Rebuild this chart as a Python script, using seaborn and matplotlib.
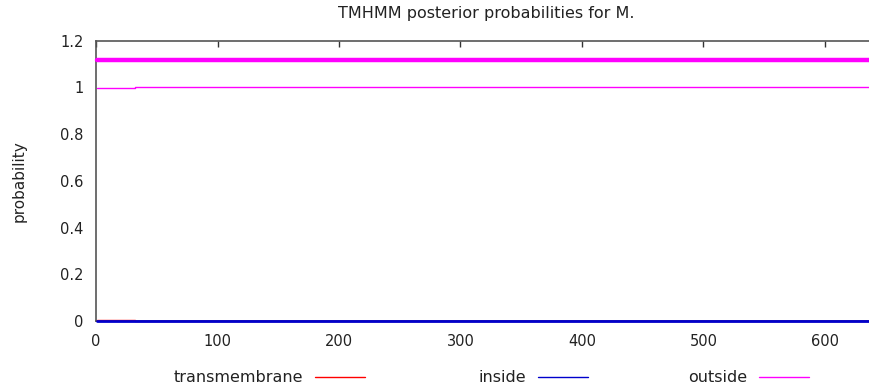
import matplotlib
matplotlib.use("Agg")
import matplotlib.pyplot as plt
from matplotlib.lines import Line2D
from matplotlib.ticker import FuncFormatter
import seaborn as sns
import pandas as pd

# ---- data ----
positions = [1, 31, 32, 637]
outside_prob = [0.996, 0.996, 1.0, 1.0]
inside_prob = [0.0, 0.0, 0.0, 0.0]
transmembrane_prob = [0.004, 0.004, 0.0, 0.0]
outside_region = [1, 640]
outside_region_level = [1.115, 1.115]

title = "TMHMM posterior probabilities for M."
ylabel = "probability"
xticks = [0, 100, 200, 300, 400, 500, 600]
yticks = [0, 0.2, 0.4, 0.6, 0.8, 1.0, 1.2]
legend_labels = ["transmembrane", "inside", "outside"]
colors = {"transmembrane": "#ff0000", "inside": "#0000cc", "outside": "#ff00ff"}

sns.set_style("white")
plt.rcParams["font.family"] = ["DejaVu Sans"]

df = pd.DataFrame({
    "pos": positions,
    "transmembrane": transmembrane_prob,
    "inside": inside_prob,
    "outside": outside_prob,
})
region = pd.DataFrame({"pos": outside_region, "level": outside_region_level})

fig = plt.figure(figsize=(8.69, 3.89), dpi=100)
ax = fig.add_axes([96 / 869, 1 - 321 / 389, 780 / 869, 280.5 / 389])
xmax = 780 / 1.215

sns.lineplot(data=region, x="pos", y="level", color=colors["outside"], lw=3.2,
             drawstyle="steps-post", ax=ax, legend=False)
sns.lineplot(data=df, x="pos", y="outside", color=colors["outside"], lw=1.0,
             drawstyle="steps-post", ax=ax, legend=False)
sns.lineplot(data=df, x="pos", y="transmembrane", color=colors["transmembrane"], lw=1.0,
             drawstyle="steps-post", ax=ax, legend=False)
sns.lineplot(data=df, x="pos", y="inside", color=colors["inside"], lw=2.0,
             drawstyle="steps-post", ax=ax, legend=False)
for ln in ax.lines:
    ln.set_clip_on(False)
    ln.set_zorder(5)

ax.set_xlim(0, xmax)
ax.set_ylim(0, 1.2)
ax.set_xticks(xticks)
ax.set_yticks(yticks)
ax.yaxis.set_major_formatter(FuncFormatter(lambda v, p: f"{v:g}"))
ax.tick_params(direction="in", length=4, width=1, color="#333333",
               labelsize=10.5, pad=9, top=True, right=False,
               labelcolor="#222222")
for s in ax.spines.values():
    s.set_color("#555555")
    s.set_linewidth(1.2)
ax.set_xlabel("")
ax.set_ylabel(ylabel, fontsize=11, color="#222222", labelpad=24)
ax.set_title(title, fontsize=11.5, color="#222222", pad=16.5)

# key below the plot (gnuplot style: label then sample line)
line_ends = [365, 588, 809]
key_y = 1 - 377 / 389
for lab, xe in zip(legend_labels, line_ends):
    x1 = xe / 869
    x0 = (xe - 50) / 869
    fig.add_artist(Line2D([x0, x1], [key_y, key_y], color=colors[lab], lw=1.0,
                          transform=fig.transFigure))
    fig.text((xe - 62) / 869, key_y, lab, ha="right", va="center",
             fontsize=11.5, color="#222222")

fig.savefig("out.png", dpi=100)
